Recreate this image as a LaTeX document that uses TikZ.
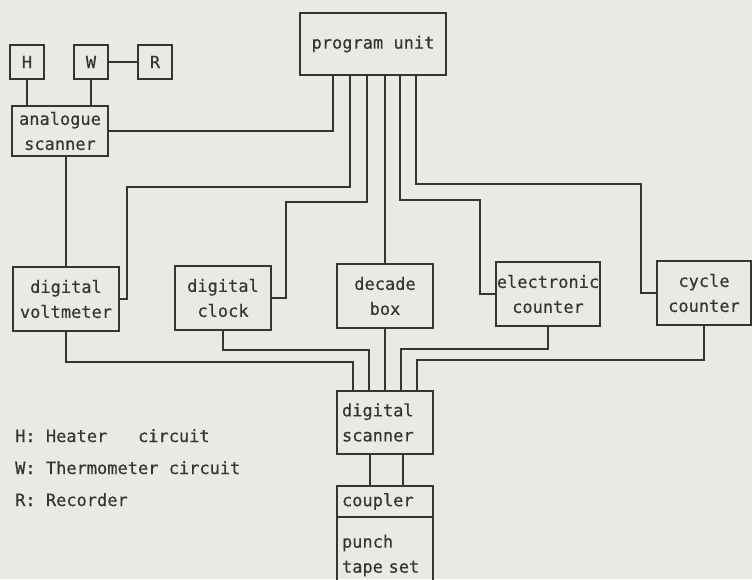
\documentclass[tikz,border=0pt]{standalone}
\usepackage{fontspec}
\usepackage{tikz}
\newfontfamily\letterfont[FakeBold=0.4]{DejaVu Sans Mono}
\definecolor{paper}{RGB}{234,233,228}
\definecolor{ink}{RGB}{55,53,50}
\tikzset{
  unit/.style={draw=ink,line width=1.8pt,inner sep=0pt,outer sep=0pt,align=center,text=ink},
  wire/.style={draw=ink,line width=1.8pt},
  legend/.style={anchor=base west,inner sep=0pt,text=ink}
}

\begin{document}
\begin{tikzpicture}[x=1pt,y=-1pt,font=\letterfont\fontsize{17}{25}\selectfont]
\useasboundingbox (0,0) rectangle (752,579);
\clip (0,0) rectangle (752,579);
\fill[paper] (0,0) rectangle (752,579);

% sensors and analogue side
\node[unit,minimum width=34pt,minimum height=34pt] (H) at (27,62) {H};
\node[unit,minimum width=34pt,minimum height=34pt] (W) at (91,62) {W};
\node[unit,minimum width=34pt,minimum height=34pt] (R) at (155,62) {R};
\node[unit,minimum width=96pt,minimum height=50pt] (ascan) at (60,131) {analogue\\scanner};
\node[unit,minimum width=146pt,minimum height=62pt] (prog) at (373,44) {program unit};

% instruments
\node[unit,minimum width=106pt,minimum height=64pt] (dvm) at (66,299) {digital\\voltmeter};
\node[unit,minimum width=96pt,minimum height=64pt] (dclk) at (223,298) {digital\\clock};
\node[unit,minimum width=96pt,minimum height=64pt] (dbox) at (385,296) {decade\\box};
\node[unit,minimum width=104pt,minimum height=64pt] (ecnt) at (548,294) {electronic\\counter};
\node[unit,minimum width=94pt,minimum height=64pt] (ccnt) at (704,293) {cycle\\counter};

% output chain
\node[unit,minimum width=96pt,minimum height=63pt,text width=86pt,align=left] (dscan) at (385,422.5) {digital\\scanner};
\node[unit,minimum width=96pt,minimum height=31pt,text width=86pt,align=left] (coupler) at (385,501.5) {coupler};
\node[unit,minimum width=96pt,minimum height=77pt,text width=86pt,align=left,anchor=north] (punch) at (coupler.south) {punch\\tape set};

% legend
\node[legend] (legH) at (15,442) {H: Heater~~~circuit};
\node[legend] (legW) at (15,474) {W: Thermometer circuit};
\node[legend] (legR) at (15,506) {R: Recorder};

% wiring above the instruments
\draw[wire] (H) -- (H |- ascan.north);
\draw[wire] (W) -- (W |- ascan.north);
\draw[wire] (W) -- (R);
\draw[wire] ([xshift=33pt]prog.south west) |- (ascan.east);
\draw[wire] (ascan.south -| dvm.north) -- (dvm.north);
\draw[wire] ([xshift=50pt]prog.south west) |- (127,187) |- (dvm.east);
\draw[wire] ([xshift=67pt]prog.south west) |- (286,202) |- (dclk.east);
\draw[wire] (prog.south -| dbox.north) -- (dbox.north);
\draw[wire] ([xshift=100pt]prog.south west) |- (480,200) |- (ecnt.west);
\draw[wire] ([xshift=116pt]prog.south west) |- (641,184) |- (ccnt.west);

% wiring into the digital scanner
\draw[wire] (dvm.south) |- (353,362) -- ([xshift=16pt]dscan.north west);
\draw[wire] (dclk.south) |- (369,350) -- ([xshift=32pt]dscan.north west);
\draw[wire] (dbox) -- (dscan);
\draw[wire] (ecnt.south) |- (401,349) -- ([xshift=64pt]dscan.north west);
\draw[wire] (ccnt.south) |- (417,360) -- ([xshift=80pt]dscan.north west);
\draw[wire] ([xshift=33pt]dscan.south west) -- ([xshift=33pt]coupler.north west);
\draw[wire] ([xshift=66pt]dscan.south west) -- ([xshift=66pt]coupler.north west);
\end{tikzpicture}
\end{document}
